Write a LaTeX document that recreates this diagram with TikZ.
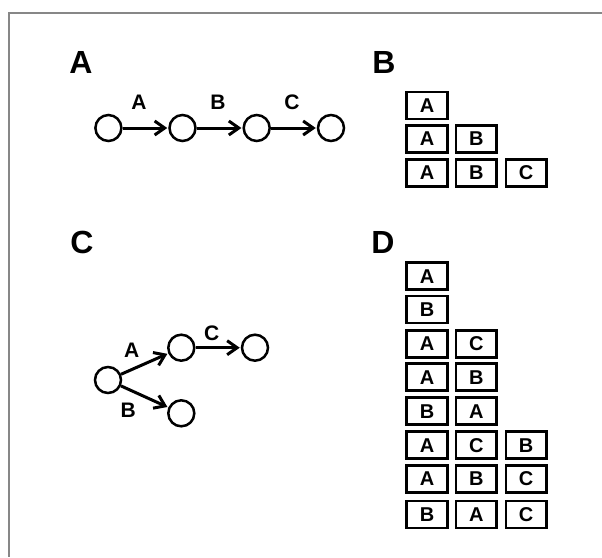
\documentclass[tikz,border=0pt]{standalone}
\usepackage{fontspec}
\setmainfont{Liberation Sans}
\usetikzlibrary{arrows.meta}
\begin{document}
\begin{tikzpicture}[x=1pt,y=-1pt,
  panel/.style={font=\fontsize{32}{32}\selectfont\bfseries, inner sep=0pt},
  elabel/.style={font=\fontsize{21}{21}\selectfont\bfseries, inner sep=0pt},
  state/.style={draw, circle, line width=2.5pt, minimum size=26pt, inner sep=0pt},
  arr/.style={line width=3pt, -{Straight Barb[length=10pt,width=14pt]}, shorten >=1pt},
  box/.style={draw, line width=2.8pt, minimum width=40.5pt, minimum height=27pt, inner sep=0pt,
    font=\fontsize{20}{20}\selectfont\bfseries},
  frame/.style={draw=black!47, line width=2.6pt}]
\useasboundingbox (0,0) rectangle (602,557);
% frame
\coordinate (ftl) at (9,13);
\coordinate (ftr) at (602,13);
\coordinate (fbl) at (9,557);
\draw[frame] (ftr) -- (ftl) -- (fbl);
% panel labels
\node[panel] (lA) at (81,62) {A};
\node[panel] (lB) at (384,62) {B};
\node[panel] (lC) at (82,242) {C};
\node[panel] (lD) at (383,242) {D};
% panel A
\node[state] (a1) at (108.4,128) {};
\node[state] (a2) at (182.5,128) {};
\node[state] (a3) at (256.7,128) {};
\node[state] (a4) at (331,128) {};
\draw[arr] (a1) -- (a2);
\draw[arr] (a2) -- (a3);
\draw[arr] (a3) -- (a4);
\node[elabel] (ea) at (139,102.5) {A};
\node[elabel] (eb) at (218,102.5) {B};
\node[elabel] (ec) at (292,102.5) {C};
% panel B
\node[box] (b11) at (427,105.5) {A};
\node[box] (b21) at (427,138.8) {A};
\node[box] (b22) at (476.3,138.8) {B};
\node[box] (b31) at (427,173) {A};
\node[box] (b32) at (476.3,173) {B};
\node[box] (b33) at (526.2,173) {C};
% panel C
\node[state] (c0) at (108,380) {};
\node[state] (c1) at (181.3,347.7) {};
\node[state] (c2) at (255,347.7) {};
\node[state] (c3) at (181.3,413.3) {};
\draw[arr] (c0) -- (c1);
\draw[arr] (c1) -- (c2);
\draw[arr] (c0) -- (c3);
\node[elabel] (ca) at (131.7,350) {A};
\node[elabel] (cc) at (211.7,333.3) {C};
\node[elabel] (cb) at (128.3,410) {B};
% panel D
\node[box] (d11) at (427,276.2) {A};
\node[box] (d21) at (427,309.5) {B};
\node[box] (d31) at (427,343.7) {A};
\node[box] (d32) at (476.3,343.7) {C};
\node[box] (d41) at (427,377.2) {A};
\node[box] (d42) at (476.3,377.2) {B};
\node[box] (d51) at (427,411.2) {B};
\node[box] (d52) at (476.3,411.2) {A};
\node[box] (d61) at (427,445.3) {A};
\node[box] (d62) at (476.3,445.3) {C};
\node[box] (d63) at (526.2,445.3) {B};
\node[box] (d71) at (427,478.8) {A};
\node[box] (d72) at (476.3,478.8) {B};
\node[box] (d73) at (526.2,478.8) {C};
\node[box] (d81) at (427,514.5) {B};
\node[box] (d82) at (476.3,514.5) {A};
\node[box] (d83) at (526.2,514.5) {C};
\end{tikzpicture}
\end{document}
